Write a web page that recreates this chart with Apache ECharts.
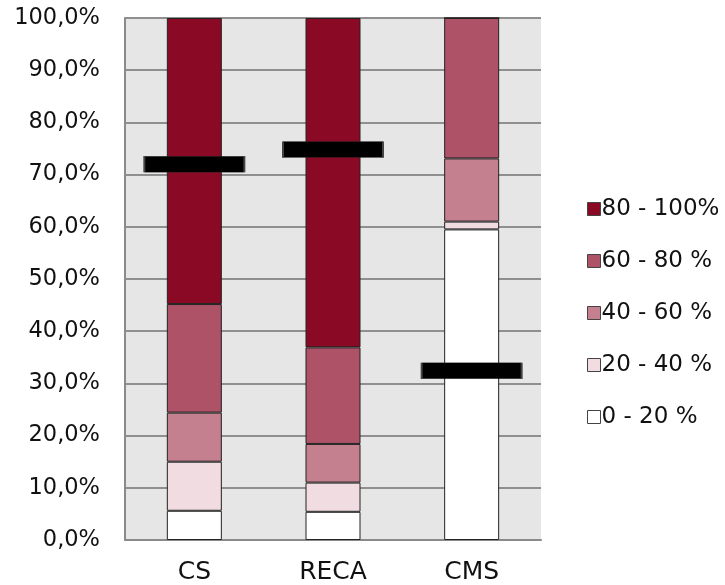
<!DOCTYPE html>
<html>
<head>
<meta charset="utf-8">
<script src="https://cdn.jsdelivr.net/npm/echarts@6/dist/echarts.min.js"></script>
<style>html,body{margin:0;padding:0;background:#fff}#c{width:725px;height:585px}</style>
</head>
<body>
<div id="c"></div>
<script>
var categories = ['CS', 'RECA', 'CMS'];
var seriesNames = ['0 - 20 %', '20 - 40 %', '40 - 60 %', '60 - 80 %', '80 - 100%'];
var s0_20 = [5.6, 5.4, 59.5];
var s20_40 = [9.4, 5.6, 1.5];
var s40_60 = [9.4, 7.4, 12.1];
var s60_80 = [20.8, 18.5, 26.9];
var s80_100 = [54.8, 63.1, 0];
var markerValues = [72.0, 74.8, 32.4];
var yTicks = [0, 10, 20, 30, 40, 50, 60, 70, 80, 90, 100];

var colors = ['#FFFFFF', '#F0DCE1', '#C4808F', '#AD5267', '#8A0A25'];
var values = [s0_20, s20_40, s40_60, s60_80, s80_100];

var series = seriesNames.map(function (n, i) {
  return {
    name: n, type: 'bar', stack: 'total', barWidth: 55,
    data: values[i],
    itemStyle: { color: colors[i], borderColor: '#222', borderWidth: 1 }
  };
});
series.push({
  name: 'marker', type: 'scatter', data: markerValues,
  symbol: 'rect', symbolSize: [100, 16], z: 10,
  itemStyle: { color: '#000', borderColor: '#444', borderWidth: 0.8, opacity: 1 }
});

var chart = echarts.init(document.getElementById('c'));
chart.setOption({
  animation: false,
  textStyle: { fontFamily: 'DejaVu Sans' },
  grid: { left: 125, right: 184, top: 18, bottom: 45, show: true, backgroundColor: '#E6E6E6', borderWidth: 0 },
  legend: {
    orient: 'vertical', left: 582, top: 192,
    data: seriesNames.slice().reverse(),
    itemWidth: 13, itemHeight: 13, itemGap: 28,
    icon: 'rect',
    itemStyle: { borderWidth: 1, borderColor: '#444' },
    textStyle: { fontSize: 23, color: '#111', lineHeight: 24, padding: [0, 0, 0, -4], fontFamily: 'DejaVu Sans' }
  },
  xAxis: {
    type: 'category', data: categories,
    axisTick: { show: false },
    axisLine: { lineStyle: { color: '#8a8a8a', width: 2 } },
    axisLabel: { fontSize: 25, color: '#111', margin: 20, fontFamily: 'DejaVu Sans' },
    splitLine: { show: false }
  },
  yAxis: {
    type: 'value', min: yTicks[0], max: yTicks[yTicks.length - 1], interval: 10,
    axisLine: { show: true, lineStyle: { color: '#8a8a8a', width: 2 } },
    axisTick: { show: false },
    axisLabel: {
      fontSize: 22.5, color: '#111', margin: 25, fontFamily: 'DejaVu Sans',
      formatter: function (v) { return v.toFixed(1).replace('.', ',') + '%'; }
    },
    splitLine: { lineStyle: { color: '#8f8f8f', width: 2 } }
  },
  series: series
});
</script>
</body>
</html>
